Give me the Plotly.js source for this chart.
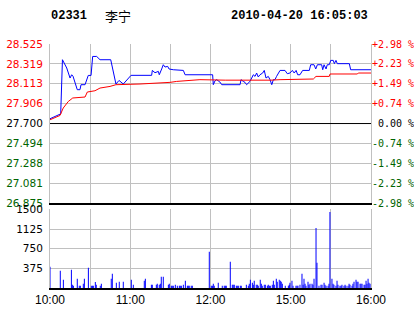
<!DOCTYPE html>
<html><head><meta charset="utf-8">
<script src="https://cdn.plot.ly/plotly-3.0.1.min.js"></script>
<style>html,body{margin:0;padding:0;background:#fff}#c{width:414px;height:314px}</style>
</head><body><div id="c"></div>
<script>
// ---- data ----
const stockCode = "02331";
const stockName = "李宁";
const stamp = "2010-04-20 16:05:03";
const prevClose = 27.700;
const priceTicks = [28.525, 28.319, 28.113, 27.906, 27.700, 27.494, 27.288, 27.081, 26.875];
const pctLabels = ["+2.98 %", "+2.23 %", "+1.49 %", "+0.74 %", "\u00a00.00 %", "-0.74 %", "-1.49 %", "-2.23 %", "-2.98 %"];
const timeTicks = [0, 30, 60, 90, 120, 150, 180, 210, 240];
const timeLabels = ["10:00", "", "11:00", "", "12:00", "", "15:00", "", "16:00"];
const volTicks = [375, 750, 1125, 1500];

// minutes since 10:00 (trading minutes) and price
const priceT = [0, 7.5, 8, 9.3, 12.5, 15, 16.2, 17.2, 20.4, 22.4, 23.2, 26.2, 28.6, 30.7, 31.9, 34.9, 37.4, 45.4, 49.3, 51.6, 54.8, 60.6, 76, 76.5, 78.5, 81, 81.7, 83.5, 84.7, 86, 88, 89, 92.2, 99.7, 101, 121.6, 121.7, 122.1, 123.4, 124.6, 127, 128.4, 142.1, 142.8, 144.5, 145.8, 147, 148.3, 149.5, 150.8, 152, 153.3, 154.5, 155.7, 157, 159, 160.2, 161.5, 163.2, 164.5, 165.8, 167, 168.2, 169.4, 170.7, 172, 175.7, 177.4, 179.4, 181.2, 182.6, 184, 185.2, 186.9, 188.9, 193.9, 194.9, 197.4, 198.7, 199.9, 203.1, 203.9, 204.9, 206.4, 207.3, 208.8, 209.9, 211.8, 212.6, 213.8, 214.8, 223.8, 224.8, 240];
const priceV = [27.750, 27.799, 27.800, 28.362, 28.276, 28.172, 28.206, 28.191, 28.051, 28.051, 28.103, 28.103, 28.199, 28.199, 28.396, 28.396, 28.362, 28.362, 28.110, 28.147, 28.110, 28.200, 28.200, 28.251, 28.227, 28.241, 28.206, 28.266, 28.310, 28.286, 28.293, 28.266, 28.258, 28.251, 28.206, 28.206, 28.155, 28.103, 28.144, 28.155, 28.131, 28.103, 28.103, 28.155, 28.137, 28.127, 28.103, 28.120, 28.137, 28.172, 28.206, 28.189, 28.224, 28.183, 28.206, 28.224, 28.251, 28.172, 28.189, 28.155, 28.103, 28.155, 28.155, 28.189, 28.224, 28.251, 28.251, 28.217, 28.224, 28.251, 28.224, 28.251, 28.206, 28.206, 28.251, 28.251, 28.310, 28.310, 28.266, 28.310, 28.310, 28.258, 28.310, 28.266, 28.310, 28.310, 28.355, 28.355, 28.321, 28.355, 28.321, 28.321, 28.258, 28.258];

const avgT = [0, 7.5, 9.9, 13.7, 17, 22.4, 26.2, 27.9, 33.6, 37.4, 44.9, 49.3, 67.3, 89.7, 94.7, 112.1, 131, 165, 172, 196.9, 198.9, 208.8, 209.4, 229.8, 230.5, 240];
const avgV = [27.739, 27.784, 27.861, 27.929, 27.965, 27.971, 27.975, 28.027, 28.040, 28.068, 28.085, 28.103, 28.110, 28.127, 28.137, 28.155, 28.150, 28.150, 28.155, 28.162, 28.189, 28.189, 28.214, 28.214, 28.224, 28.224];

const volT = [0, 7.7, 10, 16, 16.7, 17.5, 20.4, 21.9, 22.7, 24.9, 25.7, 28.7, 30.9, 31.7, 32.4, 33.9, 34.6, 37.6, 38.4, 45.8, 46.6, 49.6, 51.8, 54.8, 60.8, 62.3, 70.5, 71.3, 75.8, 76.5, 79.5, 80.2, 81.7, 82.5, 83.2, 84.7, 88.5, 89.2, 90.7, 91.4, 92.2, 93.7, 95.2, 96.7, 97.4, 98.2, 99.7, 101.2, 102.7, 103.4, 104.1, 105.6, 106.4, 119.1, 120.6, 121.4, 122.1, 122.8, 125.8, 128.8, 130.3, 131.1, 131.8, 134.8, 136.3, 137.0, 137.8, 139.3, 140.0, 140.8, 142.3, 143.0, 146.8, 148.3, 149.0, 149.8, 151.3, 152.0, 152.7, 154.2, 155.0, 155.7, 157.2, 158.0, 158.7, 160.2, 161.0, 162.5, 163.2, 164.0, 164.7, 166.2, 167.0, 167.7, 169.2, 169.9, 171.4, 172.2, 172.9, 173.7, 175.9, 178.2, 178.9, 179.4, 180.9, 181.7, 183.9, 184.7, 185.4, 186.9, 188.4, 189.2, 189.9, 190.7, 191.4, 192.9, 193.6, 194.4, 195.9, 196.6, 197.4, 198.9, 199.6, 201.1, 202.6, 203.4, 204.9, 205.6, 206.4, 207.9, 208.6, 209.3, 210.8, 211.6, 212.3, 213.8, 214.6, 215.3, 216.8, 217.6, 218.3, 219.8, 220.6, 221.3, 222.8, 223.6, 224.3, 225.8, 226.5, 227.3, 228.8, 229.5, 230.3, 231.8, 232.5, 233.3, 234.8, 235.5, 236.3, 237.0, 237.8, 238.5, 239.3];
const volV = [405, 329, 158, 348, 63, 44, 177, 44, 44, 82, 177, 386, 44, 44, 44, 114, 63, 44, 82, 177, 272, 101, 120, 120, 158, 63, 139, 177, 63, 63, 63, 82, 63, 82, 215, 215, 63, 82, 44, 44, 44, 63, 44, 44, 44, 44, 63, 139, 44, 44, 44, 44, 44, 690, 44, 44, 82, 44, 101, 44, 44, 44, 44, 500, 63, 63, 63, 44, 44, 44, 44, 44, 63, 44, 82, 158, 101, 63, 139, 63, 63, 44, 158, 82, 44, 63, 63, 44, 63, 44, 44, 63, 139, 63, 177, 120, 158, 139, 120, 82, 44, 44, 63, 101, 139, 44, 44, 44, 44, 63, 272, 63, 177, 82, 44, 120, 63, 82, 82, 63, 177, 1146, 481, 44, 63, 63, 101, 63, 44, 44, 82, 1450, 177, 82, 63, 44, 139, 63, 44, 44, 63, 44, 63, 44, 44, 82, 63, 44, 82, 120, 158, 120, 120, 82, 82, 82, 63, 63, 139, 82, 177, 101, 82];

// ---- styling helpers ----
const RED = "#ff0000", GREEN = "#006400", BLACK = "#000000", GRID = "#c0c0c0";
function colorFor(p) { return p > prevClose ? RED : (p < prevClose ? GREEN : BLACK); }
const toPct = p => (p - prevClose) / prevClose * 100;
const leftText = priceTicks.map(p => `<span style="fill:${colorFor(p)}">${p.toFixed(3)}</span>`);
const pctVals = priceTicks.map(toPct);
const rightText = pctLabels.map((s, i) => `<span style="fill:${colorFor(priceTicks[i])}">${s}</span>`);
const pMin = Math.min(...priceTicks), pMax = Math.max(...priceTicks);

const numFont = {family: "DejaVu Sans", size: 10.5, color: BLACK};

const data = [
  {type: "scatter", mode: "lines", x: priceT, y: priceV, xaxis: "x", yaxis: "y",
   line: {color: "#0000ff", width: 1}, hoverinfo: "skip"},
  {type: "scatter", mode: "lines", x: avgT, y: avgV, xaxis: "x", yaxis: "y",
   line: {color: RED, width: 1}, hoverinfo: "skip"},
  // same price series expressed as percent change, drawn invisibly to carry the right-hand axis
  {type: "scatter", mode: "lines", x: priceT, y: priceV.map(toPct), xaxis: "x", yaxis: "y3",
   line: {color: "rgba(0,0,0,0)", width: 0}, opacity: 0, hoverinfo: "skip"},
  {type: "bar", x: volT, y: volV, xaxis: "x2", yaxis: "y2", width: 0.75,
   marker: {color: "#0000ff", line: {width: 0}}, hoverinfo: "skip"}
];

const layout = {
  width: 414, height: 314,
  margin: {l: 50, r: 43, t: 44, b: 26, pad: 0},
  paper_bgcolor: "#fff", plot_bgcolor: "#fff",
  showlegend: false,
  xaxis: {anchor: "y", range: [0, 240], tickvals: timeTicks, showticklabels: false,
          ticks: "", showgrid: true, gridcolor: GRID, gridwidth: 1,
          showline: true, linecolor: BLACK, linewidth: 2, zeroline: false, fixedrange: true},
  yaxis: {domain: [0.348, 1], range: [pMin, pMax], tickvals: priceTicks, ticktext: leftText,
          ticks: "", showgrid: true, gridcolor: GRID, zeroline: false,
          showline: true, linecolor: GRID, linewidth: 1, mirror: true,
          tickfont: numFont, ticklabelstandoff: 4},
  yaxis3: {overlaying: "y", side: "right", anchor: "x", range: [pctVals[pctVals.length - 1], pctVals[0]],
           tickvals: pctVals, ticktext: rightText, ticks: "", showgrid: false, zeroline: false,
           showline: false, tickfont: {family: "DejaVu Sans Mono", size: 10, color: BLACK},
           ticklabelstandoff: 0},
  xaxis2: {anchor: "y2", matches: "x", range: [0, 240], tickvals: timeTicks, ticktext: timeLabels,
           ticks: "", showgrid: true, gridcolor: GRID, showline: true, linecolor: BLACK, linewidth: 2,
           zeroline: false, tickfont: {family: "Liberation Sans", size: 12, color: BLACK}},
  yaxis2: {domain: [0, 0.322], range: [0, 1500], tickvals: volTicks, ticks: "",
           showgrid: true, gridcolor: GRID, zeroline: false,
           showline: true, linecolor: GRID, linewidth: 1, mirror: true,
           tickfont: numFont, ticklabelstandoff: 4},
  shapes: [
    {type: "line", xref: "x domain", yref: "y", x0: 0, x1: 1, y0: prevClose, y1: prevClose,
     line: {color: BLACK, width: 1}}
  ],
  annotations: [
    {xref: "paper", yref: "paper", x: -0.003, y: 1.115, xanchor: "left", yanchor: "middle",
     text: stockCode, showarrow: false, font: {family: "Liberation Mono", size: 12, color: BLACK, weight: "bold"}},
    {xref: "paper", yref: "paper", x: 0.165, y: 1.115, xanchor: "left", yanchor: "middle",
     text: stockName, showarrow: false, font: {family: "Noto Sans CJK SC", size: 13, color: BLACK}},
    {xref: "paper", yref: "paper", x: 0.997, y: 1.115, xanchor: "right", yanchor: "middle",
     text: stamp, showarrow: false, font: {family: "Liberation Mono", size: 12, color: BLACK, weight: "bold"}}
  ]
};

Plotly.newPlot("c", data, layout, {staticPlot: true, displayModeBar: false});
</script></body></html>
